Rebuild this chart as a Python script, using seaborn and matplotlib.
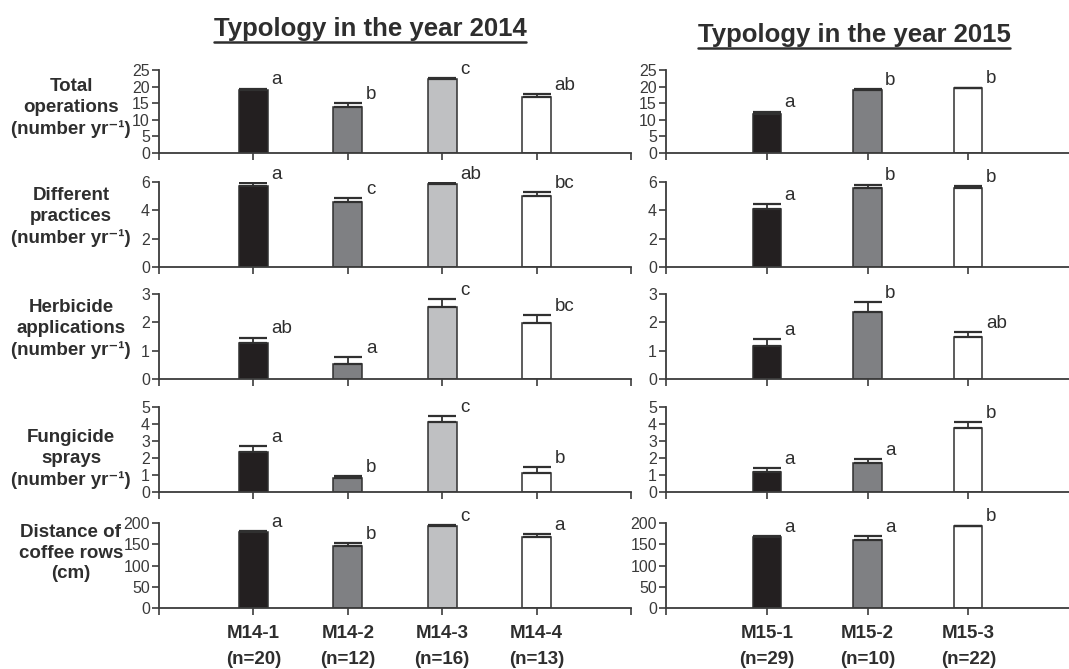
import numpy as np
import pandas as pd
import matplotlib
matplotlib.use("Agg")
import matplotlib.pyplot as plt
import seaborn as sns
from matplotlib.lines import Line2D

# ---------------- data ----------------
groups_2014 = ["M14-1", "M14-2", "M14-3", "M14-4"]
n_2014 = [20, 12, 16, 13]
groups_2015 = ["M15-1", "M15-2", "M15-3"]
n_2015 = [29, 10, 22]

row_labels = [
    "Total\noperations\n(number yr\u207b\u00b9)",
    "Different\npractices\n(number yr\u207b\u00b9)",
    "Herbicide\napplications\n(number yr\u207b\u00b9)",
    "Fungicide\nsprays\n(number yr\u207b\u00b9)",
    "Distance of\ncoffee rows\n(cm)",
]
y_max = [25, 6, 3, 5, 200]
y_step = [5, 2, 1, 1, 50]

# 2014 typology
total_ops_2014 = [19.1, 13.8, 22.3, 16.9]
total_ops_2014_se = [0.3, 1.2, 0.2, 0.8]
total_ops_2014_let = ["a", "b", "c", "ab"]
practices_2014 = [5.75, 4.6, 5.85, 5.0]
practices_2014_se = [0.2, 0.27, 0.05, 0.27]
practices_2014_let = ["a", "c", "ab", "bc"]
herbicide_2014 = [1.28, 0.53, 2.55, 1.97]
herbicide_2014_se = [0.18, 0.23, 0.27, 0.3]
herbicide_2014_let = ["ab", "a", "c", "bc"]
fungicide_2014 = [2.35, 0.8, 4.12, 1.1]
fungicide_2014_se = [0.36, 0.15, 0.36, 0.38]
fungicide_2014_let = ["a", "b", "c", "b"]
distance_2014 = [180, 145, 194, 168]
distance_2014_se = [1.5, 7, 2, 6]
distance_2014_let = ["a", "b", "c", "a"]

# 2015 typology
total_ops_2015 = [11.8, 19.0, 19.5]
total_ops_2015_se = [0.7, 0.3, 0.2]
total_ops_2015_let = ["a", "b", "b"]
practices_2015 = [4.1, 5.55, 5.55]
practices_2015_se = [0.37, 0.27, 0.15]
practices_2015_let = ["a", "b", "b"]
herbicide_2015 = [1.18, 2.35, 1.5]
herbicide_2015_se = [0.22, 0.36, 0.17]
herbicide_2015_let = ["a", "b", "ab"]
fungicide_2015 = [1.2, 1.73, 3.75]
fungicide_2015_se = [0.2, 0.22, 0.37]
fungicide_2015_let = ["a", "a", "b"]
distance_2015 = [167, 160, 193]
distance_2015_se = [2, 9, 1]
distance_2015_let = ["a", "a", "b"]

vals_2014 = [total_ops_2014, practices_2014, herbicide_2014, fungicide_2014, distance_2014]
se_2014 = [total_ops_2014_se, practices_2014_se, herbicide_2014_se, fungicide_2014_se, distance_2014_se]
let_2014 = [total_ops_2014_let, practices_2014_let, herbicide_2014_let, fungicide_2014_let, distance_2014_let]
vals_2015 = [total_ops_2015, practices_2015, herbicide_2015, fungicide_2015, distance_2015]
se_2015 = [total_ops_2015_se, practices_2015_se, herbicide_2015_se, fungicide_2015_se, distance_2015_se]
let_2015 = [total_ops_2015_let, practices_2015_let, herbicide_2015_let, fungicide_2015_let, distance_2015_let]

colors_2014 = ["#231f20", "#7f8083", "#bfc0c2", "#ffffff"]
colors_2015 = ["#231f20", "#7f8083", "#ffffff"]

# ---------------- style ----------------
sns.set_style("white")
plt.rcParams["font.family"] = ["Liberation Sans", "DejaVu Sans"]

W, H = 1069, 669
fig = plt.figure(figsize=(W / 100, H / 100), dpi=100)
fig.patch.set_facecolor("white")

AX_COL = "#3c3c3c"
TXT_COL = "#2e2e2e"

row_px = [(70, 153), (182, 267), (294, 379), (407, 492), (523, 608)]
label_cy = [108, 217, 329, 459, 553]
panels = [
    dict(x0=159, x1=631, xlim=(-1, 4), groups=groups_2014, ns=n_2014, colors=colors_2014,
         vals=vals_2014, se=se_2014, let=let_2014, width=0.31, cap=10.3, ticks=[-1, 0, 1, 2, 3, 4]),
    dict(x0=666, x1=1069, xlim=(-1, 3), groups=groups_2015, ns=n_2015, colors=colors_2015,
         vals=vals_2015, se=se_2015, let=let_2015, width=0.28, cap=10.0, ticks=[-1, 0, 1, 2]),
]

for r, (top, bot) in enumerate(row_px):
    fig.text(71 / W, 1 - label_cy[r] / H, row_labels[r], ha="center", va="center",
             multialignment="center", fontsize=13.5, fontweight="bold", color=TXT_COL,
             linespacing=1.3)
    for p in panels:
        ax = fig.add_axes([p["x0"] / W, 1 - bot / H, (p["x1"] - p["x0"]) / W, (bot - top) / H])
        df = pd.DataFrame({"group": p["groups"], "value": p["vals"][r]})
        sns.barplot(data=df, x="group", y="value", hue="group", order=p["groups"],
                    hue_order=p["groups"], palette=p["colors"], width=p["width"], dodge=False,
                    legend=False, edgecolor="#303030", linewidth=1.1, saturation=1, ax=ax, zorder=2)
        xs = np.arange(len(p["groups"]))
        v = np.array(p["vals"][r], dtype=float)
        e = np.array(p["se"][r], dtype=float)
        ax.errorbar(xs, v, yerr=[np.zeros_like(e), e], fmt="none", ecolor="#303030",
                    elinewidth=1.3, capsize=p["cap"], capthick=1.6, zorder=3)
        for xi, vi, ei, lt in zip(xs, v, e, p["let"][r]):
            ax.annotate(lt, (xi + p["width"] / 2, vi + ei), xytext=(2.5, 3),
                        textcoords="offset points", ha="left", va="baseline",
                        fontsize=13.5, color=TXT_COL, annotation_clip=False)
        ax.set_xlim(*p["xlim"])
        ax.set_ylim(0, y_max[r])
        ax.set_yticks(np.arange(0, y_max[r] + 0.001, y_step[r]))
        ax.set_xticks(p["ticks"])
        if r == len(row_px) - 1:
            ax.set_xticklabels([f"{g}\n(n={n})" if t >= 0 and t < len(p["groups"]) else ""
                                for t, g, n in zip(p["ticks"],
                                                   [""] + p["groups"] + ["", ""],
                                                   [0] + p["ns"] + [0, 0])],
                               fontsize=13.5, fontweight="bold", color=TXT_COL, linespacing=1.75)
        else:
            ax.set_xticklabels([])
        ax.set_xlabel("")
        ax.set_ylabel("")
        ax.tick_params(axis="both", direction="out", length=5, width=1.2, color=AX_COL,
                       bottom=True, left=True)
        ax.tick_params(axis="y", labelsize=11.5, labelcolor="#3a3a3a", pad=1.5)
        ax.tick_params(axis="x", pad=7)
        for s in ["top", "right"]:
            ax.spines[s].set_visible(False)
        for s in ["left", "bottom"]:
            ax.spines[s].set_color(AX_COL)
            ax.spines[s].set_linewidth(1.3)
        ax.set_facecolor("none")
        ax.grid(False)

# titles with underline
t1 = fig.text(370 / W, 1 - 36 / H, "Typology in the year 2014", ha="center", va="baseline",
              fontsize=18.5, fontweight="bold", color=TXT_COL)
t2 = fig.text(854 / W, 1 - 42 / H, "Typology in the year 2015", ha="center", va="baseline",
              fontsize=18.5, fontweight="bold", color=TXT_COL)
fig.canvas.draw()
renderer = fig.canvas.get_renderer()
for t in (t1, t2):
    bb = t.get_window_extent(renderer)
    y = (bb.y0 - 1.0) / H
    fig.add_artist(Line2D([bb.x0 / W, bb.x1 / W], [y, y], transform=fig.transFigure,
                          color=TXT_COL, linewidth=1.8))

fig.savefig("out.png", dpi=100, facecolor="white")
